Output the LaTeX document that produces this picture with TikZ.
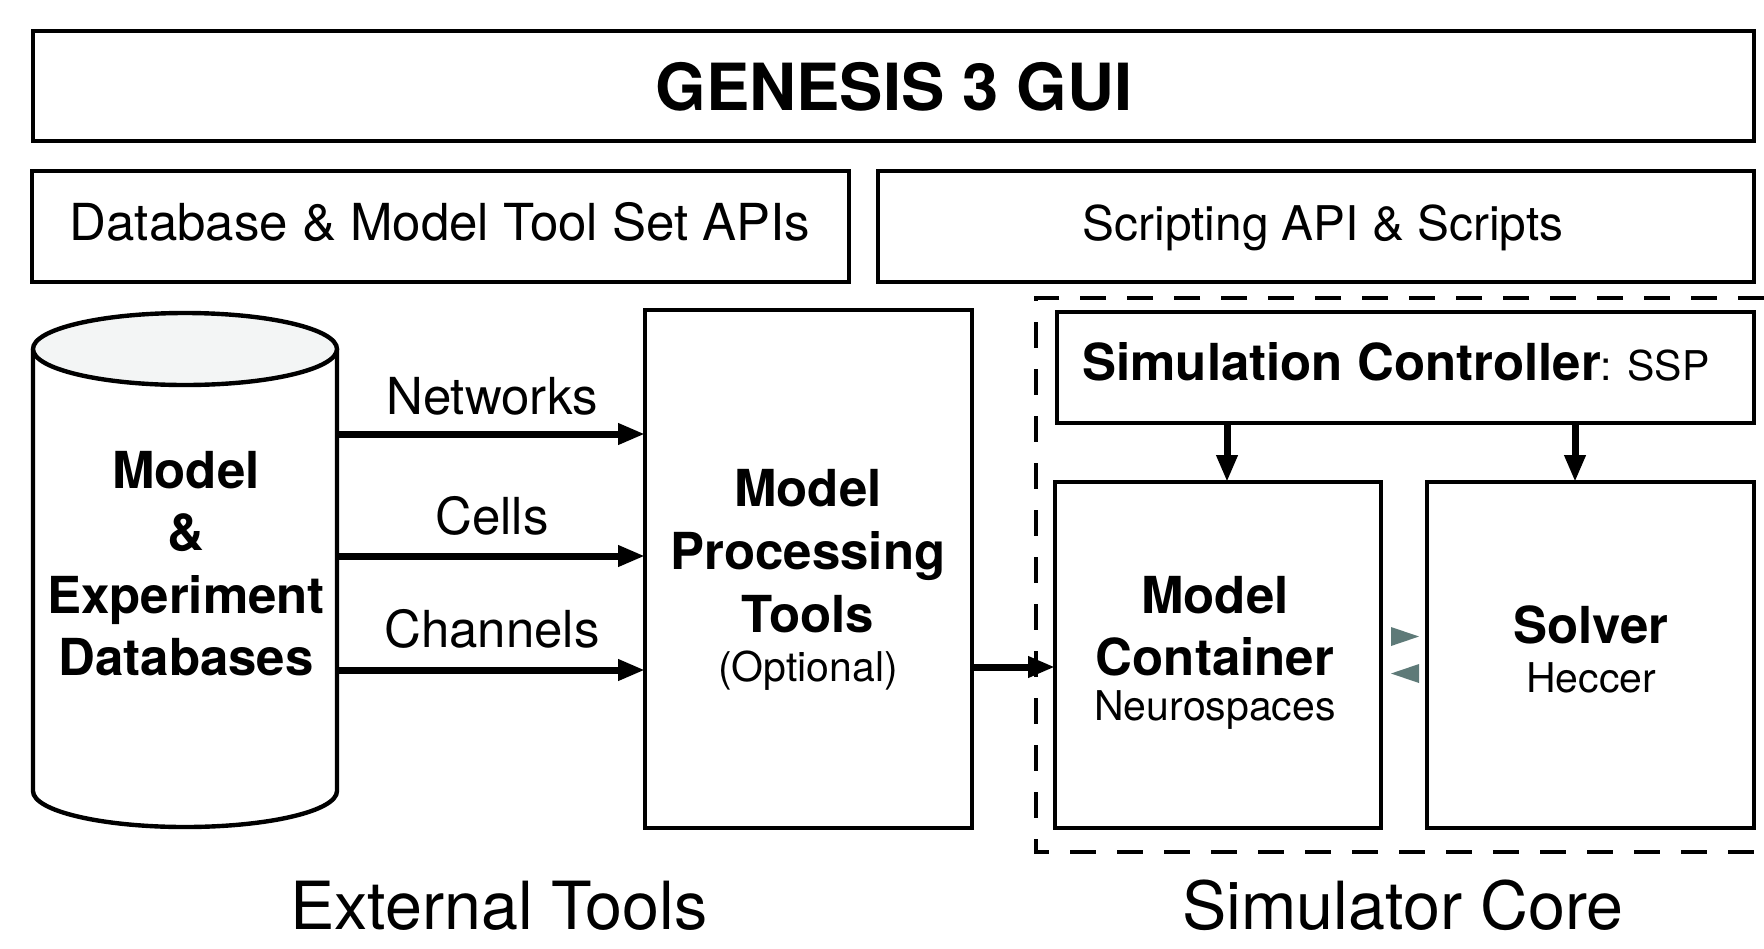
\documentclass[tikz,border=0pt]{standalone}
\usepackage{fontspec}
\setmainfont{TeX Gyre Heros}
\usetikzlibrary{arrows.meta}
\definecolor{tealgray}{RGB}{94,122,120}
\definecolor{cyltop}{RGB}{243,245,245}
\newcommand\gsBig{\fontsize{32.5pt}{39pt}\selectfont}
\newcommand\gsLab{\fontsize{33.2pt}{40pt}\selectfont}
\newcommand\gsMain{\fontsize{25.5pt}{31pt}\selectfont}
\newcommand\gsScr{\fontsize{23.9pt}{29pt}\selectfont}
\newcommand\gsSub{\fontsize{20.5pt}{25pt}\selectfont}
\begin{document}
\begin{tikzpicture}[x=0.5pt,y=0.5pt,
  box/.style={draw, line width=2.2pt, inner sep=0pt, outer sep=0pt},
  txt/.style={inner sep=0pt, anchor=base},
  arr/.style={line width=3.5pt, -{Triangle[length=13.5pt,width=10pt]}},
  dashbox/.style={line width=2.4pt, dash pattern=on 13pt off 10.5pt}]
\useasboundingbox (0,0) rectangle (1764,-948);
% top boxes
\node[box, minimum width=860.5pt, minimum height=55pt] (gui) at (893.5,-86) {};
\node[txt, font=\gsBig\bfseries] (guit) at (894,-110) {GENESIS 3 GUI};
\node[box, minimum width=408.5pt, minimum height=55.5pt] (dbapi) at (440.5,-226.5) {};
\node[txt, font=\gsMain] (dbapit) at (440,-240) {Database \& Model Tool Set APIs};
\node[box, minimum width=438pt, minimum height=55.5pt] (script) at (1316,-226.5) {};
\node[txt, font=\gsScr] (scriptt) at (1323,-240) {Scripting API \& Scripts};
% cylinder
\draw[line width=2.2pt, fill=white] (33,-349) -- (33,-791)
  arc[start angle=180, end angle=360, x radius=76pt, y radius=18pt] -- (337,-349);
\draw[line width=2.2pt, fill=cyltop] (185,-349) ellipse [x radius=76pt, y radius=18pt];
\node[minimum width=152pt, minimum height=257pt, inner sep=0pt, outer sep=0pt] (cyl) at (185,-570) {};
\node[txt, font=\gsMain\bfseries] (c1) at (186,-488) {Model};
\node[txt, font=\gsMain\bfseries] (c2) at (186,-550) {\&};
\node[txt, font=\gsMain\bfseries] (c3) at (186,-613) {Experiment};
\node[txt, font=\gsMain\bfseries] (c4) at (186,-675) {Databases};
% model processing tools
\node[box, minimum width=163.5pt, minimum height=259pt] (mpt) at (808.5,-569) {};
\node[txt, font=\gsMain\bfseries] (m1) at (808,-506) {Model};
\node[txt, font=\gsMain\bfseries] (m2) at (808,-569) {Processing};
\node[txt, font=\gsMain\bfseries] (m3) at (808,-632) {Tools};
\node[txt, font=\gsSub] (m4) at (808,-681) {(Optional)};
% arrows db -> mpt
\coordinate (yN) at (0,-434);
\coordinate (yC) at (0,-556);
\coordinate (yH) at (0,-670);
\draw[arr] (cyl.east |- yN) -- (mpt.west |- yN);
\draw[arr] (cyl.east |- yC) -- (mpt.west |- yC);
\draw[arr] (cyl.east |- yH) -- (mpt.west |- yH);
\node[txt, font=\gsMain] (lN) at (492,-414) {Networks};
\node[txt, font=\gsMain] (lC) at (492,-534) {Cells};
\node[txt, font=\gsMain] (lH) at (492,-647) {Channels};
% simulator core
\draw[dashbox] (1764,-298) -- (1036,-298) -- (1036,-852) -- (1764,-852);
\node[box, minimum width=348.5pt, minimum height=55.5pt] (simctl) at (1405.5,-367.5) {};
\node[txt] (simt) at (1396,-380) {\gsMain\bfseries Simulation Controller\gsSub\mdseries: SSP};
\node[box, minimum width=163pt, minimum height=173pt] (mc) at (1218,-655) {};
\node[txt, font=\gsMain\bfseries] (mc1) at (1215,-613) {Model};
\node[txt, font=\gsMain\bfseries] (mc2) at (1215,-675) {Container};
\node[txt, font=\gsSub] (mc3) at (1215,-720) {Neurospaces};
\node[box, minimum width=163.5pt, minimum height=173pt] (solver) at (1590.5,-655) {};
\node[txt, font=\gsMain\bfseries] (s1) at (1591,-643) {Solver};
\node[txt, font=\gsSub] (s2) at (1591,-692) {Heccer};
\coordinate (xa) at (1227,0);
\coordinate (xb) at (1575,0);
\draw[arr] (simctl.south -| xa) -- (mc.north -| xa);
\draw[arr] (simctl.south -| xb) -- (solver.north -| xb);
\coordinate (yo) at (0,-667);
\draw[arr] (mpt.east |- yo) -- (mc.west |- yo);
% gray arrowheads between container and solver
\fill[tealgray] (1391,-627) -- (1419,-636.5) -- (1391,-646) -- cycle;
\fill[tealgray] (1419,-664) -- (1391,-673.5) -- (1419,-683) -- cycle;
% bottom labels
\node[txt, font=\gsLab] (ext) at (499,-929) {External Tools};
\node[txt, font=\gsLab] (core) at (1403,-929) {Simulator Core};
\end{tikzpicture}
\end{document}
